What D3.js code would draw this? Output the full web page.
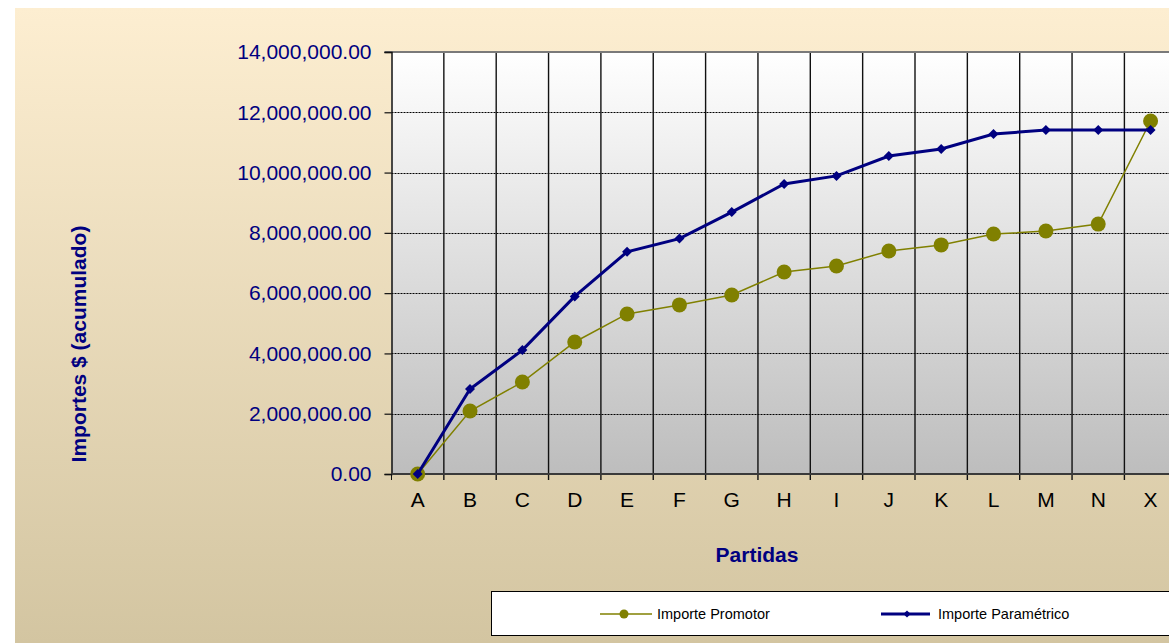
<!DOCTYPE html>
<html>
<head>
<meta charset="utf-8">
<script src="https://cdn.jsdelivr.net/npm/d3@7"></script>
<style>
  body { margin: 0; background: #fff; }
  text { font-family: "Liberation Sans", Arial, sans-serif; }
</style>
</head>
<body>
<div id="chart"></div>
<script>
const partidas = ["A", "B", "C", "D", "E", "F", "G", "H", "I", "J", "K", "L", "M", "N", "X"];
const importePromotor = [0, 2090000, 3050000, 4380000, 5310000, 5610000, 5940000, 6700000, 6900000, 7400000, 7600000, 7960000, 8060000, 8290000, 11710000];
const importeParametrico = [0, 2820000, 4110000, 5890000, 7370000, 7810000, 8690000, 9620000, 9890000, 10550000, 10780000, 11280000, 11410000, 11410000, 11410000];
const yTicks = [0, 2000000, 4000000, 6000000, 8000000, 10000000, 12000000, 14000000];

const width = 1169;
const height = 643;
const plot = { left: 391.5, top: 52, bottom: 474, step: 52.35 };

const svg = d3.select("#chart")
  .append("svg")
  .attr("width", width)
  .attr("height", height);

const defs = svg.append("defs");

const outerGrad = defs.append("linearGradient")
  .attr("id", "outer-grad")
  .attr("x1", 0).attr("y1", 0).attr("x2", 0).attr("y2", 1);
outerGrad.append("stop").attr("offset", "0%").attr("stop-color", "#fdeed1");
outerGrad.append("stop").attr("offset", "100%").attr("stop-color", "#d3c5a1");

const plotGrad = defs.append("linearGradient")
  .attr("id", "plot-grad")
  .attr("x1", 0).attr("y1", 0).attr("x2", 0).attr("y2", 1);
plotGrad.append("stop").attr("offset", "0%").attr("stop-color", "#ffffff");
plotGrad.append("stop").attr("offset", "100%").attr("stop-color", "#bdbdbd");

// outer chart area
svg.append("rect")
  .attr("x", 15)
  .attr("y", 8)
  .attr("width", width - 15)
  .attr("height", height - 8)
  .attr("fill", "url(#outer-grad)");

const x = d3.scaleBand()
  .domain(partidas)
  .range([plot.left, plot.left + plot.step * partidas.length]);

const y = d3.scaleLinear()
  .domain([0, 14000000])
  .range([plot.bottom, plot.top]);

svg.append("rect")
  .attr("x", plot.left)
  .attr("y", plot.top)
  .attr("width", plot.step * partidas.length)
  .attr("height", plot.bottom - plot.top)
  .attr("fill", "url(#plot-grad)");

// horizontal dotted gridlines
svg.selectAll(".hgrid")
  .data(yTicks.slice(1, -1))
  .enter()
  .append("line")
  .attr("class", "hgrid")
  .attr("x1", plot.left)
  .attr("x2", width)
  .attr("y1", d => Math.round(y(d)) + 0.5)
  .attr("y2", d => Math.round(y(d)) + 0.5)
  .attr("stroke", "#000")
  .attr("stroke-width", 1.2)
  .attr("stroke-dasharray", "2,1");

// vertical gridlines at category boundaries
svg.selectAll(".vgrid")
  .data(partidas.slice(1))
  .enter()
  .append("line")
  .attr("class", "vgrid")
  .attr("x1", d => x(d))
  .attr("x2", d => x(d))
  .attr("y1", plot.top)
  .attr("y2", plot.bottom + 6)
  .attr("stroke", "#111")
  .attr("stroke-width", 1.4);

// plot top border
svg.append("line")
  .attr("x1", plot.left - 7)
  .attr("x2", width)
  .attr("y1", plot.top)
  .attr("y2", plot.top)
  .attr("stroke", "#7a7a7a")
  .attr("stroke-width", 2);

// y axis
const yAxis = svg.append("g")
  .attr("transform", `translate(${plot.left},0)`)
  .call(d3.axisLeft(y)
    .tickValues(yTicks)
    .tickSize(7)
    .tickPadding(13)
    .tickFormat(d3.format(",.2f")));
yAxis.select(".domain").attr("stroke", "#111").attr("stroke-width", 1.5);
yAxis.selectAll(".tick line").attr("stroke", "#111").attr("stroke-width", 1.2);
yAxis.selectAll(".tick text")
  .attr("fill", "#000080")
  .style("font-size", "21px")
  .style("font-family", "'Liberation Sans', Arial, sans-serif");

// x axis
svg.append("line")
  .attr("x1", plot.left)
  .attr("x2", width)
  .attr("y1", plot.bottom)
  .attr("y2", plot.bottom)
  .attr("stroke", "#3a3a3a")
  .attr("stroke-width", 2);

svg.append("line")
  .attr("x1", plot.left)
  .attr("x2", plot.left)
  .attr("y1", plot.bottom)
  .attr("y2", plot.bottom + 6)
  .attr("stroke", "#111");

svg.selectAll(".xlabel")
  .data(partidas)
  .enter()
  .append("text")
  .attr("class", "xlabel")
  .attr("x", d => x(d) + x.bandwidth() / 2)
  .attr("y", 507)
  .attr("text-anchor", "middle")
  .style("font-size", "21px")
  .attr("fill", "#000")
  .text(d => d);

// axis titles
svg.append("text")
  .attr("transform", "rotate(-90)")
  .attr("x", -344)
  .attr("y", 86)
  .attr("text-anchor", "middle")
  .style("font-size", "21px")
  .style("font-weight", "bold")
  .attr("fill", "#000080")
  .text("Importes $ (acumulado)");

svg.append("text")
  .attr("x", 757)
  .attr("y", 562)
  .attr("text-anchor", "middle")
  .style("font-size", "21px")
  .style("font-weight", "bold")
  .attr("fill", "#000080")
  .text("Partidas");

const cx = (d, i) => x(partidas[i]) + x.bandwidth() / 2;

const line = d3.line()
  .x((d, i) => cx(d, i))
  .y(d => y(d));

// Importe Promotor
svg.append("path")
  .datum(importePromotor)
  .attr("fill", "none")
  .attr("stroke", "#808000")
  .attr("stroke-width", 1.5)
  .attr("d", line);

svg.selectAll(".promotor-point")
  .data(importePromotor)
  .enter()
  .append("circle")
  .attr("class", "promotor-point")
  .attr("cx", cx)
  .attr("cy", d => y(d))
  .attr("r", 7.5)
  .attr("fill", "#808000");

// Importe Parametrico
svg.append("path")
  .datum(importeParametrico)
  .attr("fill", "none")
  .attr("stroke", "#000080")
  .attr("stroke-width", 3)
  .attr("d", line);

svg.selectAll(".parametrico-point")
  .data(importeParametrico)
  .enter()
  .append("path")
  .attr("class", "parametrico-point")
  .attr("transform", (d, i) => `translate(${cx(d, i)},${y(d)}) rotate(45)`)
  .attr("d", d3.symbol().type(d3.symbolSquare).size(50))
  .attr("fill", "#000080");

// legend
svg.append("rect")
  .attr("x", 491.5)
  .attr("y", 591.5)
  .attr("width", 700)
  .attr("height", 44)
  .attr("fill", "#fff")
  .attr("stroke", "#000")
  .attr("stroke-width", 1);

const legendY = 614;

svg.append("line")
  .attr("x1", 600).attr("x2", 652)
  .attr("y1", legendY).attr("y2", legendY)
  .attr("stroke", "#808000")
  .attr("stroke-width", 1.5);
svg.append("circle")
  .attr("cx", 624).attr("cy", legendY)
  .attr("r", 4.5)
  .attr("fill", "#808000");
svg.append("text")
  .attr("x", 657).attr("y", legendY + 5)
  .style("font-size", "14.5px")
  .attr("fill", "#000")
  .text("Importe Promotor");

svg.append("line")
  .attr("x1", 881).attr("x2", 930)
  .attr("y1", legendY).attr("y2", legendY)
  .attr("stroke", "#000080")
  .attr("stroke-width", 3);
svg.append("path")
  .attr("transform", `translate(907,${legendY}) rotate(45)`)
  .attr("d", d3.symbol().type(d3.symbolSquare).size(26))
  .attr("fill", "#000080");
svg.append("text")
  .attr("x", 938).attr("y", legendY + 5)
  .style("font-size", "14.5px")
  .attr("fill", "#000")
  .text("Importe Paramétrico");
</script>
</body>
</html>
